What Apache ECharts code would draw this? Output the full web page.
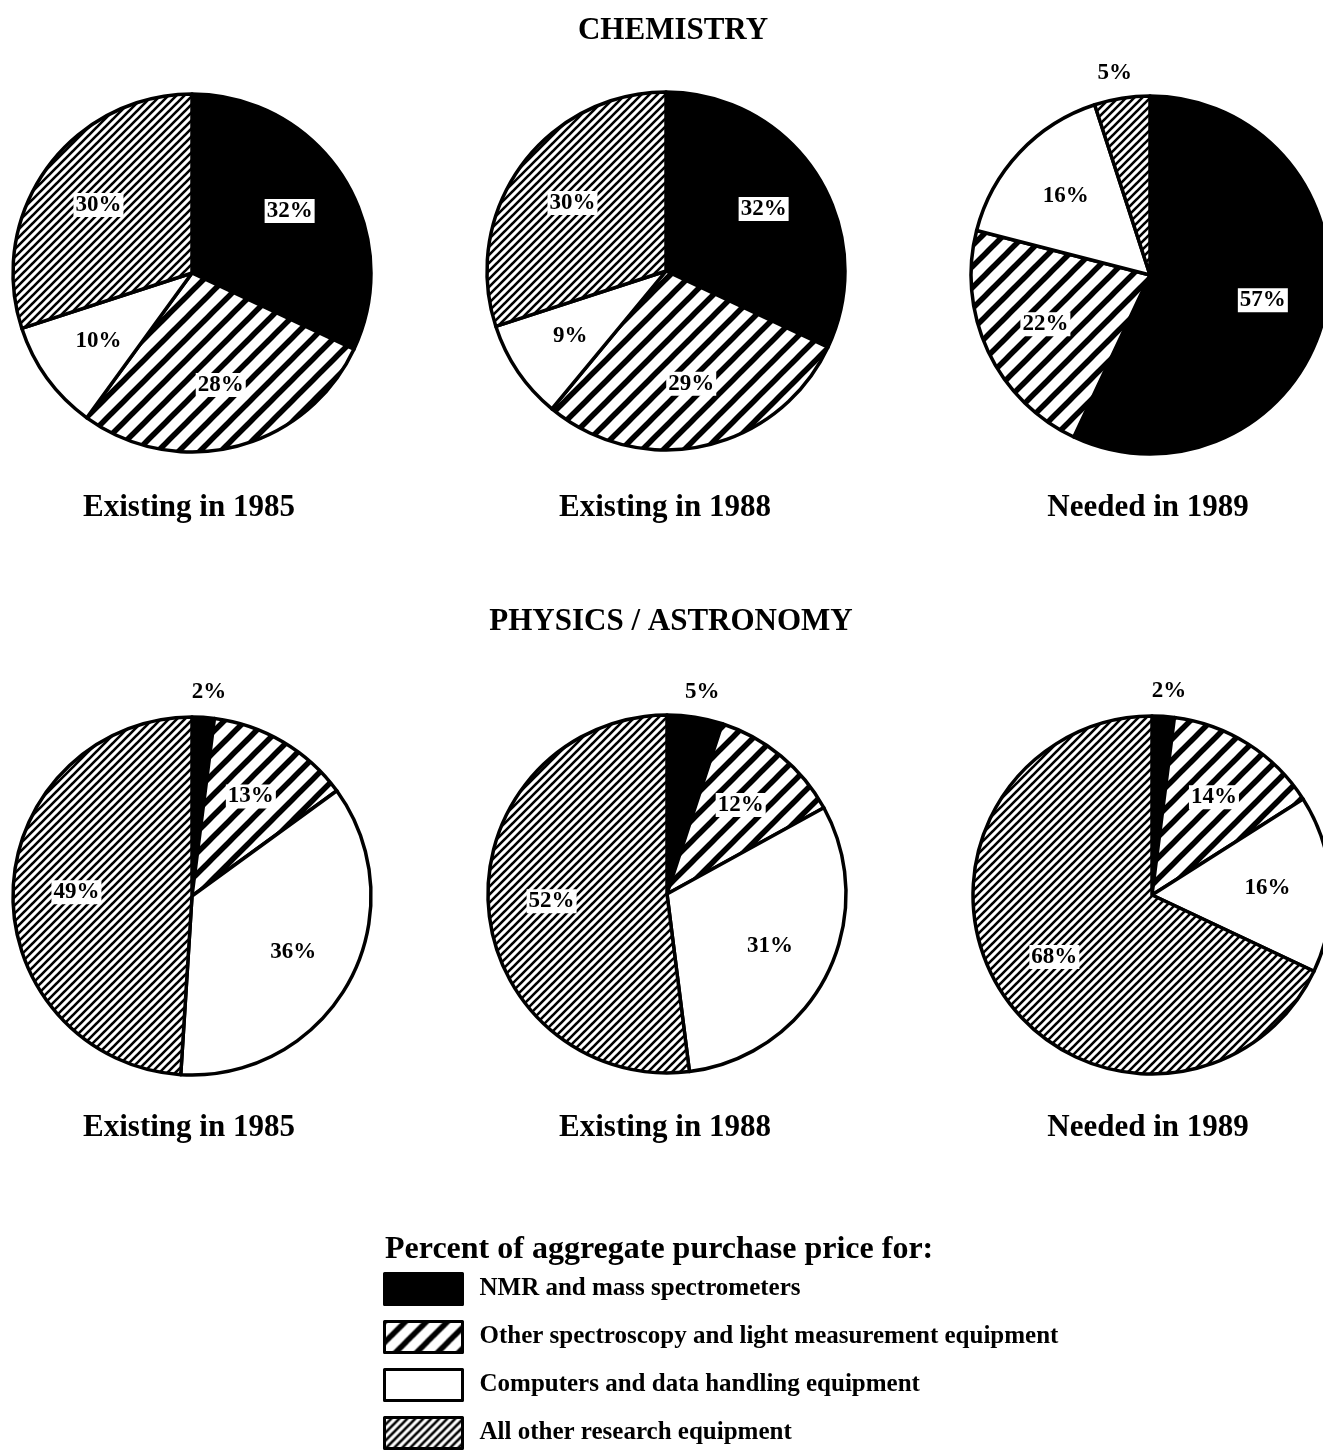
<!DOCTYPE html>
<html>
<head>
<meta charset="utf-8">
<script src="https://cdn.jsdelivr.net/npm/echarts@6/dist/echarts.min.js"></script>
<style>
  html, body { margin: 0; padding: 0; background: #fff; }
  #chart { width: 1323px; height: 1450px; }
</style>
</head>
<body>
<div id="chart"></div>
<script>
// ---- data ----
const categories = [
  'NMR and mass spectrometers',
  'Other spectroscopy and light measurement equipment',
  'Computers and data handling equipment',
  'All other research equipment'
];
const chem1985 = [32, 28, 10, 30];
const chem1988 = [32, 29, 9, 30];
const chem1989 = [57, 22, 16, 5];
const phys1985 = [2, 13, 36, 49];
const phys1988 = [5, 12, 31, 52];
const phys1989 = [2, 14, 16, 68];
const panelTitles = ['Existing in 1985', 'Existing in 1988', 'Needed in 1989'];
const sectionTitles = ['CHEMISTRY', 'PHYSICS / ASTRONOMY'];
const legendTitle = 'Percent of aggregate purchase price for:';

// ---- patterns ----
function makeHatch(size, lw) {
  const c = document.createElement('canvas');
  c.width = size; c.height = size;
  const g = c.getContext('2d');
  g.fillStyle = '#fff';
  g.fillRect(0, 0, size, size);
  g.strokeStyle = '#000';
  g.lineWidth = lw;
  g.lineCap = 'square';
  for (let k = -1; k <= 1; k++) {
    g.beginPath();
    g.moveTo(k * size, size);
    g.lineTo(k * size + size, 0);
    g.stroke();
  }
  return c;
}
const sparse = { image: makeHatch(21, 5.5), repeat: 'repeat' };
const dense = { image: makeHatch(8, 2.6), repeat: 'repeat' };
const fills = ['#000', sparse, '#fff', dense];

const serif = '"Liberation Serif", "Times New Roman", serif';

const panels = [
  { values: chem1985, center: [192, 273] },
  { values: chem1988, center: [666, 271] },
  { values: chem1989, center: [1150, 275] },
  { values: phys1985, center: [192, 896] },
  { values: phys1988, center: [667, 894] },
  { values: phys1989, center: [1152, 895] }
];
const INNER_PUSH = 1.25;

const series = panels.map((p, si) => ({
  type: 'pie',
  center: p.center,
  radius: 179,
  startAngle: 90,
  clockwise: true,
  avoidLabelOverlap: false,
  silent: true,
  itemStyle: { borderColor: '#000', borderWidth: 3.5 },
  labelLine: { show: false, length: 14, length2: 0 },
  labelLayout: function (params) {
    const pn = panels[params.seriesIndex];
    const v = pn.values[params.dataIndex];
    if (v <= 5) return { align: 'center', verticalAlign: 'bottom' };
    const r = params.labelRect;
    const lx = r.x + r.width / 2, ly = r.y + r.height / 2;
    const cx = pn.center[0], cy = pn.center[1];
    return {
      x: cx + (lx - cx) * INNER_PUSH,
      y: cy + (ly - cy) * INNER_PUSH,
      align: 'center',
      verticalAlign: 'middle'
    };
  },
  data: categories.map((name, i) => {
    const v = p.values[i];
    const small = v <= 5;
    return {
      name: name,
      value: v,
      itemStyle: { color: fills[i] },
      label: small ? {
        position: 'outside',
        formatter: '{c}%',
        fontFamily: serif, fontWeight: 'bold', fontSize: 23, color: '#000'
      } : {
        position: 'inside',
        formatter: '{c}%',
        fontFamily: serif, fontWeight: 'bold', fontSize: 23, color: '#000',
        backgroundColor: i === 2 ? 'transparent' : '#fff',
        padding: [1, 2, 0, 2]
      }
    };
  })
}));

const graphics = [];
graphics.push({ type: 'text', x: 673, y: 31, style: { text: sectionTitles[0], font: 'bold 31px ' + serif, fill: '#000', textAlign: 'center', textVerticalAlign: 'middle' } });
graphics.push({ type: 'text', x: 671, y: 622, style: { text: sectionTitles[1], font: 'bold 31px ' + serif, fill: '#000', textAlign: 'center', textVerticalAlign: 'middle' } });
const colX = [189, 665, 1148];
[508, 1128].forEach(y => {
  panelTitles.forEach((t, i) => {
    graphics.push({ type: 'text', x: colX[i], y: y, style: { text: t, font: 'bold 31px ' + serif, fill: '#000', textAlign: 'center', textVerticalAlign: 'middle' } });
  });
});
graphics.push({ type: 'text', x: 385, y: 1250, style: { text: legendTitle, font: 'bold 32px ' + serif, fill: '#000', textAlign: 'left', textVerticalAlign: 'middle' } });

const option = {
  animation: false,
  backgroundColor: '#fff',
  legend: {
    data: categories,
    orient: 'vertical',
    left: 383,
    top: 1272,
    height: 200,
    padding: 0,
    itemWidth: 78,
    itemHeight: 31,
    itemGap: 14,
    icon: 'rect',
    selectedMode: false,
    itemStyle: { borderColor: '#000', borderWidth: 3 },
    textStyle: { fontFamily: serif, fontWeight: 'bold', fontSize: 25, color: '#000', padding: [0, 0, 0, 12] }
  },
  graphic: graphics,
  series: series
};

const chart = echarts.init(document.getElementById('chart'), null, { renderer: 'canvas' });
chart.setOption(option);
</script>
</body>
</html>
